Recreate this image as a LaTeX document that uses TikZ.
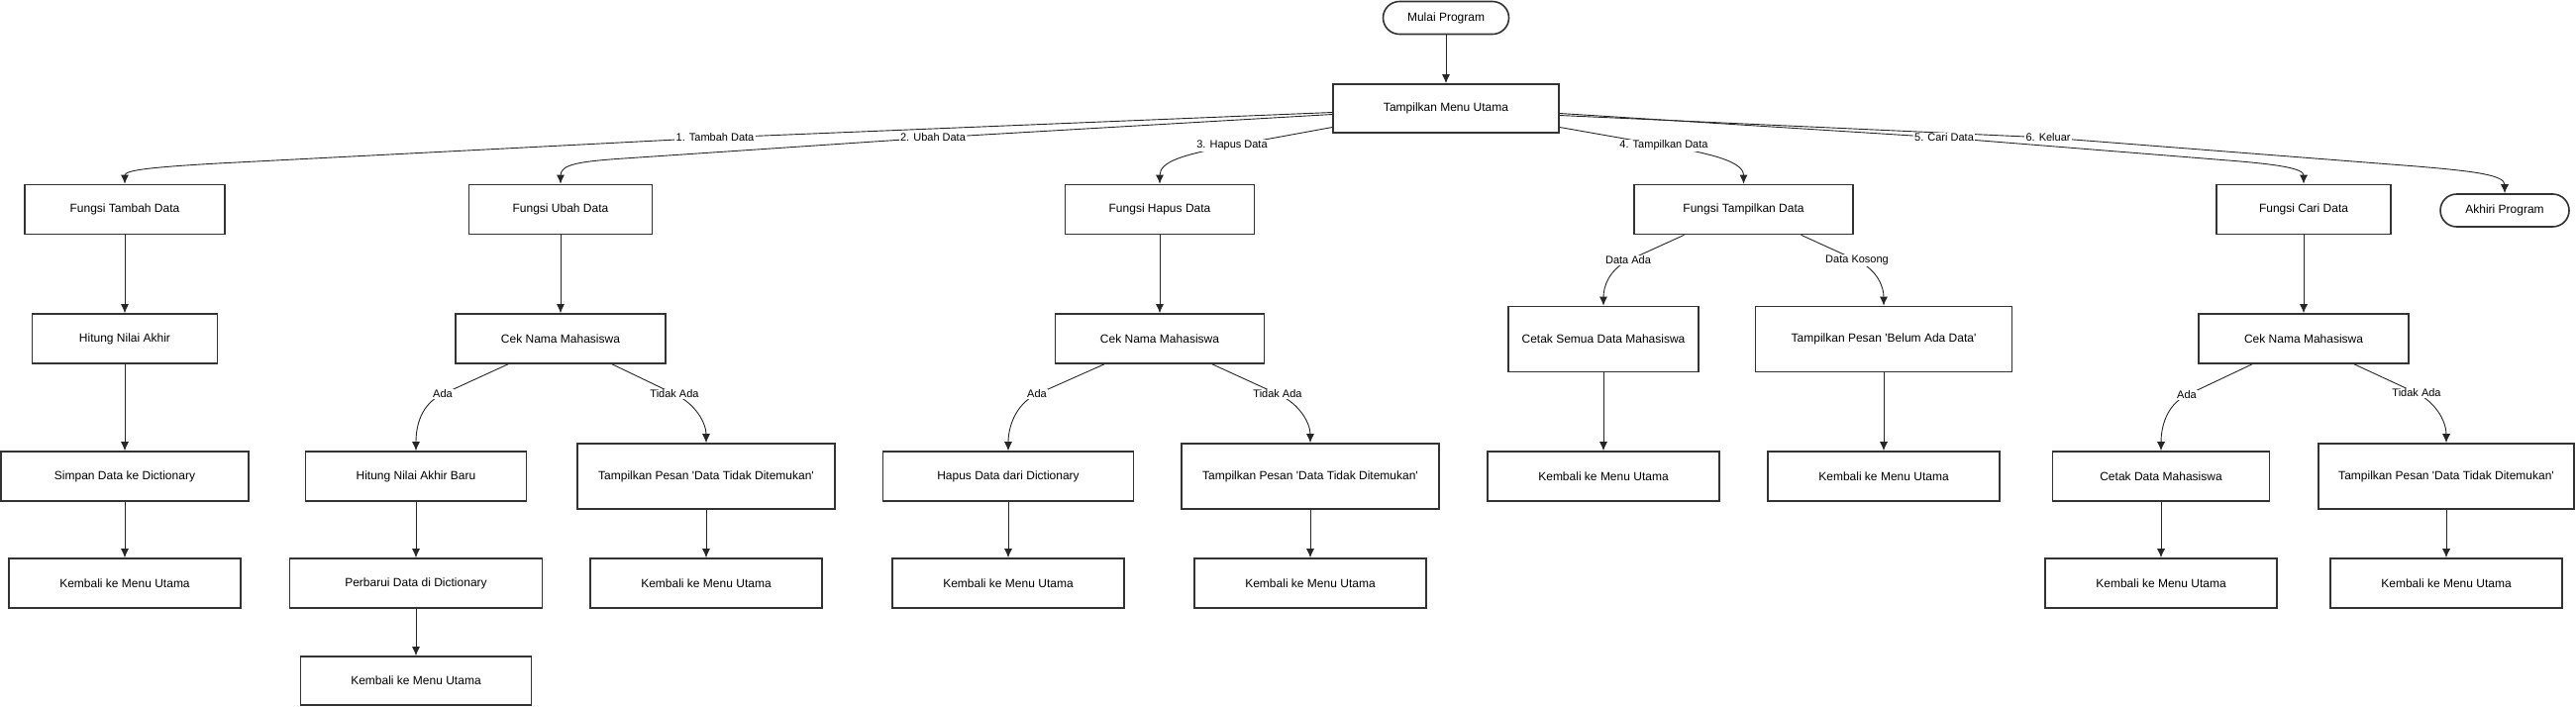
\documentclass[tikz,border=0pt]{standalone}
\usepackage{fontspec}
\setmainfont{Liberation Sans}
\usetikzlibrary{arrows.meta}
\newcommand{\sq}{\textquotesingle}
\tikzset{
  box/.style={draw=black!80, line width=1.6pt, fill=white, minimum height=50pt, inner sep=0pt,
    font=\fontsize{12}{14}\selectfont, align=center},
  term/.style={box, rounded corners=16.5pt},
  lbl/.style={fill=white, inner sep=1.2pt, font=\fontsize{11}{13}\selectfont},
  arr/.style={draw=black!85, line width=0.9pt, -{Latex[length=9pt,width=8pt]}}
}
\begin{document}
\begin{tikzpicture}[x=1pt,y=-1pt]
\fill[white] (0,0) rectangle (2601,713);
\useasboundingbox (0,0) rectangle (2601,713);
% top
\node[term, minimum width=127pt, minimum height=33pt] (start) at (1460,18) {Mulai Program};
\node[box, minimum width=228pt, minimum height=49pt] (menu) at (1460,109.5) {Tampilkan Menu Utama};
% row 2
\node[box, minimum width=202pt] (tambah) at (126,211.5) {Fungsi Tambah Data};
\node[box, minimum width=185pt] (ubah) at (566,211.5) {Fungsi Ubah Data};
\node[box, minimum width=191pt] (hapus) at (1171,211.5) {Fungsi Hapus Data};
\node[box, minimum width=221pt] (tampil) at (1760.5,211.5) {Fungsi Tampilkan Data};
\node[box, minimum width=176pt] (cari) at (2326,211.5) {Fungsi Cari Data};
\node[term, minimum width=130pt, minimum height=33pt] (akhir) at (2529,212.5) {Akhiri Program};
% row 3
\node[box, minimum width=187pt] (hitung) at (126,342) {Hitung Nilai Akhir};
\node[box, minimum width=212pt] (cekU) at (566,342) {Cek Nama Mahasiswa};
\node[box, minimum width=211pt] (cekH) at (1171,342) {Cek Nama Mahasiswa};
\node[box, minimum width=192pt, minimum height=66pt] (cetakAll) at (1619,342.5) {Cetak Semua Data Mahasiswa};
\node[box, minimum width=259pt, minimum height=66pt] (belum) at (1902,342.5) {Tampilkan Pesan \sq Belum Ada Data\sq};
\node[box, minimum width=212pt] (cekC) at (2326,342) {Cek Nama Mahasiswa};
% row 4
\node[box, minimum width=250pt] (simpan) at (126,481) {Simpan Data ke Dictionary};
\node[box, minimum width=223pt] (hitungB) at (420,481) {Hitung Nilai Akhir Baru};
\node[box, minimum width=260pt, minimum height=66pt] (pesanU) at (713,481) {Tampilkan Pesan \sq Data Tidak Ditemukan\sq};
\node[box, minimum width=253pt] (hapusD) at (1018,481) {Hapus Data dari Dictionary};
\node[box, minimum width=260pt, minimum height=66pt] (pesanH) at (1323,481) {Tampilkan Pesan \sq Data Tidak Ditemukan\sq};
\node[box, minimum width=234pt] (kembT1) at (1619,481) {Kembali ke Menu Utama};
\node[box, minimum width=234pt] (kembT2) at (1902,481) {Kembali ke Menu Utama};
\node[box, minimum width=219pt] (cetakD) at (2182,481) {Cetak Data Mahasiswa};
\node[box, minimum width=258pt, minimum height=66pt] (pesanC) at (2470,481) {Tampilkan Pesan \sq Data Tidak Ditemukan\sq};
% row 5
\node[box, minimum width=234pt] (kembA) at (126,589) {Kembali ke Menu Utama};
\node[box, minimum width=255pt] (perbarui) at (420,589) {Perbarui Data di Dictionary};
\node[box, minimum width=234pt] (kembU2) at (713,589) {Kembali ke Menu Utama};
\node[box, minimum width=234pt] (kembH1) at (1018,589) {Kembali ke Menu Utama};
\node[box, minimum width=234pt] (kembH2) at (1323,589) {Kembali ke Menu Utama};
\node[box, minimum width=234pt] (kembC1) at (2182,589) {Kembali ke Menu Utama};
\node[box, minimum width=234pt] (kembC2) at (2470,589) {Kembali ke Menu Utama};
% row 6
\node[box, minimum width=233pt, minimum height=49pt] (kembU1) at (420,687.5) {Kembali ke Menu Utama};

% label coordinates
\coordinate (L1) at (722,139);
\coordinate (L2) at (942,139);
\coordinate (L3) at (1244,147);
\coordinate (L4) at (1680,147);
\coordinate (L5) at (1963,139);
\coordinate (L6) at (2068,139);
\coordinate (a1) at (447,398);
\coordinate (t1) at (681,398);
\coordinate (a2) at (1047,398);
\coordinate (t2) at (1290,398);
\coordinate (a3) at (2208,399);
\coordinate (t3) at (2440,397);
\coordinate (d1) at (1644,263);
\coordinate (d2) at (1875,263);

% main menu edges
\draw[arr] (start) -- (menu);
\draw[arr] ([yshift=-4pt]menu.west) -- (L1) -- (220,165) .. controls (150,169) and (126,172) .. (tambah.north);
\draw[arr] ([yshift=-6pt]menu.west) -- (L2) -- (630,160) .. controls (585,163) and (566,166) .. (ubah.north);
\draw[arr] ([yshift=-19pt]menu.west) -- (L3) .. controls (1195,156) and (1171,163) .. (hapus.north);
\draw[arr] ([yshift=-19pt]menu.east) -- (L4) .. controls (1727,155) and (1760.5,163) .. (tampil.north);
\draw[arr] ([yshift=-5pt]menu.east) -- (L5) -- (2250,162) .. controls (2300,166) and (2326,170) .. (cari.north);
\draw[arr] ([yshift=-7pt]menu.east) -- (L6) -- (2440,168) .. controls (2500,173) and (2529,177) .. (akhir.north);

% vertical edges
\draw[arr] (tambah) -- (hitung);
\draw[arr] (hitung) -- (simpan);
\draw[arr] (simpan) -- (kembA);
\draw[arr] (ubah) -- (cekU);
\draw[arr] (hitungB) -- (perbarui);
\draw[arr] (perbarui) -- (kembU1);
\draw[arr] (pesanU) -- (kembU2);
\draw[arr] (hapus) -- (cekH);
\draw[arr] (hapusD) -- (kembH1);
\draw[arr] (pesanH) -- (kembH2);
\draw[arr] (cetakAll) -- (kembT1);
\draw[arr] (belum) -- (kembT2);
\draw[arr] (cari) -- (cekC);
\draw[arr] (cetakD) -- (kembC1);
\draw[arr] (pesanC) -- (kembC2);

% branch edges
\draw[arr] ([xshift=-53pt]cekU.south) -- (a1) .. controls (425,408) and (420,430) .. (hitungB.north);
\draw[arr] ([xshift=52pt]cekU.south) -- (t1) .. controls (703,408) and (713,428) .. (pesanU.north);
\draw[arr] ([xshift=-56pt]cekH.south) -- (a2) .. controls (1025,408) and (1018,432) .. (hapusD.north);
\draw[arr] ([xshift=53pt]cekH.south) -- (t2) .. controls (1313,408) and (1323,428) .. (pesanH.north);
\draw[arr] ([xshift=-52pt]cekC.south) -- (a3) .. controls (2187,409) and (2182,432) .. (cetakD.north);
\draw[arr] ([xshift=51pt]cekC.south) -- (t3) .. controls (2462,408) and (2470,428) .. (pesanC.north);
\draw[arr] ([xshift=-60pt]tampil.south) -- (d1) .. controls (1624,273) and (1619,290) .. (cetakAll.north);
\draw[arr] ([xshift=58pt]tampil.south) -- (d2) .. controls (1896,273) and (1902,290) .. (belum.north);

% labels
\node[lbl] at (L1) {1. Tambah Data};
\node[lbl] at (L2) {2. Ubah Data};
\node[lbl] at (L3) {3. Hapus Data};
\node[lbl] at (L4) {4. Tampilkan Data};
\node[lbl] at (L5) {5. Cari Data};
\node[lbl] at (L6) {6. Keluar};
\node[lbl] at (a1) {Ada};
\node[lbl] at (t1) {Tidak Ada};
\node[lbl] at (a2) {Ada};
\node[lbl] at (t2) {Tidak Ada};
\node[lbl] at (a3) {Ada};
\node[lbl] at (t3) {Tidak Ada};
\node[lbl] at (d1) {Data Ada};
\node[lbl] at (d2) {Data Kosong};
\end{tikzpicture}
\end{document}
